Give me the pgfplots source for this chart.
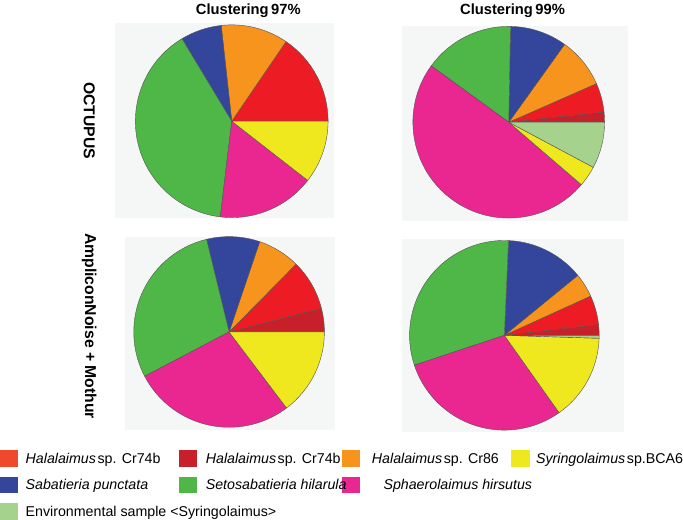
\documentclass[border=0pt]{standalone}
\usepackage{pgfplots}
\pgfplotsset{compat=1.18}
\usepackage{pgfplotstable}
\usepackage{fontspec}
\setmainfont{Liberation Sans}

\definecolor{cRed}{HTML}{ED1C24}
\definecolor{cDark}{HTML}{C8202B}
\definecolor{cOrange}{HTML}{F7941D}
\definecolor{cYellow}{HTML}{EFE81F}
\definecolor{cBlue}{HTML}{33469B}
\definecolor{cGreen}{HTML}{4EB748}
\definecolor{cPink}{HTML}{EA2790}
\definecolor{cLight}{HTML}{A5D38E}
\definecolor{panel}{HTML}{F5F6F6}
\definecolor{edge}{HTML}{555555}
\definecolor{legRed}{HTML}{F0482C}

% percentages, counter-clockwise from 3 o'clock
\pgfplotstableread{
col pct
cRed 15.47
cOrange 11.28
cBlue 6.89
cGreen 39.47
cPink 16.36
cYellow 10.53
}\pieTL
\pgfplotstableread{
col pct
cDark 1.7
cRed 4.9
cOrange 8.5
cBlue 9.6
cGreen 15.3
cPink 48.7
cYellow 3.5
cLight 7.8
}\pieTR
\pgfplotstableread{
col pct
cDark 4.0
cRed 8.6
cOrange 7.2
cBlue 9.0
cGreen 28.9
cPink 27.6
cYellow 14.7
}\pieBL
\pgfplotstableread{
col pct
cDark 1.8
cRed 5.0
cOrange 4.1
cBlue 13.4
cGreen 30.8
cPink 29.7
cYellow 14.7
cLight 0.5
}\pieBR

\newcommand\drawpie[4]{%
  \pgfplotstablegetrowsof{#4}%
  \pgfmathtruncatemacro\lastrow{\pgfplotsretval-1}%
  \xdef\startang{0}%
  \foreach \i in {0,...,\lastrow}{%
    \pgfplotstablegetelem{\i}{col}\of{#4}\edef\cc{\pgfplotsretval}%
    \pgfplotstablegetelem{\i}{pct}\of{#4}\edef\pp{\pgfplotsretval}%
    \pgfmathsetmacro\endang{\startang+3.6*\pp}%
    \filldraw[fill=\cc, draw=edge, line width=0.4bp, line join=round]
      (axis cs:#1,#2) -- ++(\startang:#3) arc[start angle=\startang, end angle=\endang, radius=#3] -- cycle;
    \xdef\startang{\endang}%
  }%
}

\newcommand\legbox[3]{% x, y(center), color
  \fill[#3] (axis cs:#1,#2-8) rectangle (axis cs:#1+18,#2+8);
}

\begin{document}
\begin{tikzpicture}
\begin{axis}[width=683bp, height=513bp, scale only axis,
  xmin=0, xmax=683, ymin=0, ymax=513, hide axis, clip=false]
\pgfplotsextra{%
  % panels
  \fill[panel] (axis cs:115,301) rectangle (axis cs:330,492.3);
  \fill[panel] (axis cs:396.7,298) rectangle (axis cs:618,489);
  \fill[panel] (axis cs:124.3,93) rectangle (axis cs:331,282.3);
  \fill[panel] (axis cs:396.7,91) rectangle (axis cs:614,280.3);
  % pies
  \drawpie{229.3}{395.7}{94.5bp}{\pieTL}
  \drawpie{501}{394.7}{94bp}{\pieTR}
  \drawpie{226.7}{189}{93.5bp}{\pieBL}
  \drawpie{496.7}{185.7}{93bp}{\pieBR}
  % titles
  \node[font=\fontsize{14.5}{16}\selectfont\bfseries] at (axis cs:245.5,504.5) {Clustering\,97\%};
  \node[font=\fontsize{14.5}{16}\selectfont\bfseries] at (axis cs:504.7,504.5) {Clustering\,99\%};
  \node[font=\fontsize{15.5}{17}\selectfont\bfseries, rotate=-90] at (axis cs:89.5,396.3) {OCTUPUS};
  \node[font=\fontsize{15.5}{17}\selectfont\bfseries, rotate=-90] at (axis cs:89.5,194.7) {AmpliconNoise + Mothur};
  % legend
  \legbox{2}{65}{legRed}
  \legbox{177.6}{65}{cDark}
  \legbox{337.4}{65}{cOrange}
  \legbox{503.7}{65}{cYellow}
  \legbox{2}{39}{cBlue}
  \legbox{177.6}{39}{cGreen}
  \legbox{337.4}{39}{cPink}
  \legbox{2}{13}{cLight}
  \tikzset{leg/.style={anchor=base west, inner sep=0pt, font=\fontsize{14}{16}\selectfont}}
  \node[leg] at (axis cs:27,60) {\textit{Halalaimus}\hspace{1.5pt}sp. Cr74b};
  \node[leg] at (axis cs:203.7,60) {\textit{Halalaimus}\hspace{1.5pt}sp. Cr74b};
  \node[leg] at (axis cs:366.6,60) {\textit{Halalaimus}\hspace{1.5pt}sp. Cr86};
  \node[leg] at (axis cs:527.6,60) {\textit{Syringolaimus}\hspace{1.5pt}sp.BCA6};
  \node[leg] at (axis cs:27,34) {\textit{Sabatieria punctata}};
  \node[leg] at (axis cs:203.7,34) {\textit{Setosabatieria hilarula}};
  \node[leg] at (axis cs:378,34) {\textit{Sphaerolaimus hirsutus}};
  \node[leg] at (axis cs:27,8) {Environmental sample <Syringolaimus>};
}
\end{axis}
\end{tikzpicture}
\end{document}
